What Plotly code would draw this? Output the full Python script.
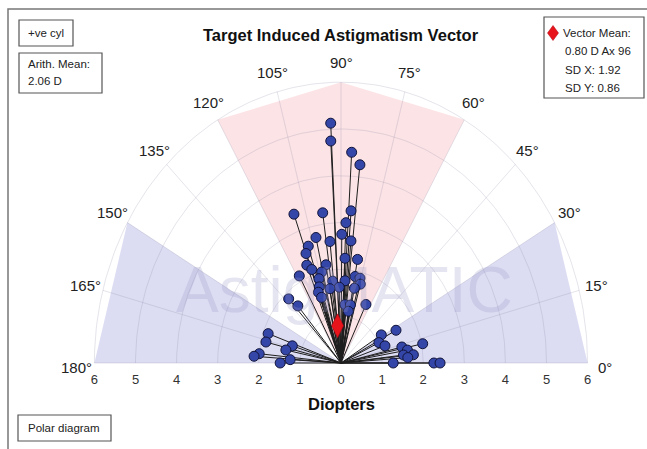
import numpy as np
import plotly.graph_objects as go

# ---------------- data ----------------
magnitude = [5.13, 4.75, 4.51, 4.26,
             3.38, 3.24, 3.26, 3.00, 2.75, 2.62, 2.75, 2.61, 2.62, 2.49,
             2.24, 2.25, 2.25, 2.12, 2.13, 2.00, 2.12, 1.88, 1.76, 1.76,
             1.88, 1.87, 1.75, 1.63, 1.62, 1.61, 1.71, 1.61, 1.48, 1.87,
             1.61, 1.25, 1.26, 1.39, 1.12,
             1.88, 1.88, 1.24, 1.37, 2.00, 2.12, 1.24, 1.48,
             1.51, 1.15, 1.02, 1.13, 2.03, 1.52, 1.64, 1.77, 1.53, 1.63,
             1.27, 2.26, 2.41]
axis_deg = [92.8, 93.0, 86.7, 83.8,
            109.8, 97.9, 85.7, 87.7, 89.6, 84.7, 102.8, 95.9, 107.7, 110.0,
            87.5, 79.7, 111.7, 109.6, 99.9, 103.6, 118.6, 106.6, 96.6, 86.8,
            79.5, 75.7, 74.4, 78.5, 91.5, 99.6, 108.0, 110.0, 108.7, 132.9,
            130.7, 85.6, 79.6, 64.1, 80.8,
            160.5, 166.2, 162.8, 168.3, 174.3, 176.1, 176.7, 180.0,
            27.6, 31.5, 25.3, 18.9, 11.7, 13.0, 9.7, 5.7, 6.4, 4.1,
            0.0, 0.0, 0.0]
mean_magnitude = 0.80
mean_axis = 96
ring_values = [1, 2, 3, 4, 5, 6]
angle_ticks = list(range(0, 181, 15))
angle_labels = [f"{a}°" for a in angle_ticks]
x_tick_vals = list(range(-6, 7))
x_tick_text = [str(abs(v)) for v in x_tick_vals]
blue_sectors = [(0, 30), (150, 180)]
red_sectors = [(60, 120)]

# ---------------- geometry helpers ----------------
W, H = 647, 449
CX, CY = 341.0, 363.0       # pixel position of the origin
SX, SY = 41.1, 46.8         # pixels per diopter (x, y)
XR = [-CX / SX, (W - CX) / SX]
YR = [-(H - CY) / SY, CY / SY]
RMAX = 6


def pol(r, a):
    t = np.deg2rad(np.asarray(a, dtype=float))
    return np.asarray(r, dtype=float) * np.cos(t), np.asarray(r, dtype=float) * np.sin(t)


def px(x):
    return x / W


def py(y):
    return 1 - y / H


FONT = "Arial, 'Liberation Sans', sans-serif"
fig = go.Figure()

# shaded sectors
for sectors, col in [(blue_sectors, "rgba(140,140,212,0.30)"), (red_sectors, "rgba(245,150,160,0.27)")]:
    for a, b in sectors:
        angs = np.arange(a, b + 1, 30)
        sx, sy = pol(np.full(len(angs), RMAX), angs)
        fig.add_trace(go.Scatter(x=[0, *sx, 0], y=[0, *sy, 0], fill="toself", fillcolor=col,
                                 mode="lines", line=dict(width=0), hoverinfo="skip", showlegend=False))

# grid: rings and spokes
gx, gy = [], []
tt = np.linspace(0, 180, 181)
for r in ring_values:
    ex, ey = pol(np.full(len(tt), r), tt)
    gx += list(ex) + [None]
    gy += list(ey) + [None]
for a in angle_ticks:
    ex, ey = pol([0, RMAX], [a, a])
    gx += list(ex) + [None]
    gy += list(ey) + [None]
fig.add_trace(go.Scatter(x=gx, y=gy, mode="lines", line=dict(color="rgba(130,130,165,0.22)", width=1),
                         hoverinfo="skip", showlegend=False))

# spokes from origin to each data point
dx, dy = pol(magnitude, axis_deg)
lx, ly = [], []
for xx, yy in zip(dx, dy):
    lx += [0, xx, None]
    ly += [0, yy, None]
fig.add_trace(go.Scatter(x=lx, y=ly, mode="lines", line=dict(color="#1e1e1e", width=1),
                         hoverinfo="skip", showlegend=False))

# data points
fig.add_trace(go.Scatter(x=dx, y=dy, mode="markers",
                         marker=dict(size=10, color="#3446a8", line=dict(color="#11143a", width=1)),
                         showlegend=False))

# vector mean
mx, my = pol([mean_magnitude], [mean_axis])
fig.add_trace(go.Scatter(x=mx, y=my, mode="markers",
                         marker=dict(symbol="diamond-tall", size=17, color="#e8141b",
                                     line=dict(color="#b00010", width=0.5)),
                         showlegend=False))

annotations = []
# angle labels
lab_r = 6.43
for a, t in zip(angle_ticks, angle_labels):
    ax_, ay_ = pol(lab_r, a)
    if a in (0, 180):
        ay_ = -0.1
    annotations.append(dict(x=float(ax_), y=float(ay_), xref="x", yref="y", text=t, showarrow=False,
                            font=dict(family=FONT, size=15, color="#222"), xanchor="center", yanchor="middle"))

# watermark
annotations.append(dict(x=px(344), y=py(290), xref="paper", yref="paper", text="AstigMATIC", showarrow=False,
                        font=dict(family=FONT, size=64, color="rgba(150,150,200,0.25)"),
                        xanchor="center", yanchor="middle"))

# title & axis title
annotations.append(dict(x=px(341), y=py(35), xref="paper", yref="paper",
                        text="<b>Target Induced Astigmatism Vector</b>", showarrow=False,
                        font=dict(family=FONT, size=16.5, color="#111"), xanchor="center", yanchor="middle"))
annotations.append(dict(x=px(341), y=py(404), xref="paper", yref="paper", text="<b>Diopters</b>",
                        showarrow=False, font=dict(family=FONT, size=16.5, color="#111"),
                        xanchor="center", yanchor="middle"))

shapes = []
box_line = dict(color="#555", width=1.2)
# outer frame
shapes.append(dict(type="rect", xref="paper", yref="paper", x0=px(8), x1=px(700), y0=py(500), y1=py(9),
                   line=dict(color="#777", width=1.5)))
# info boxes
for (x0, y0, x1, y1) in [(19, 20, 73, 46), (19, 53, 102, 93), (544, 17, 644, 98), (18, 415, 111, 441)]:
    shapes.append(dict(type="rect", xref="paper", yref="paper", x0=px(x0), x1=px(x1), y0=py(y1), y1=py(y0),
                       line=box_line, fillcolor="white"))

small = dict(family=FONT, size=11.5, color="#222")
for text, x, y in [("+ve cyl", 26, 33), ("Arith. Mean:", 26, 64), ("2.06 D", 26, 81),
                   ("Vector Mean:", 561, 33), ("0.80 D Ax 96", 563, 51), ("SD X: 1.92", 563, 70),
                   ("SD Y: 0.86", 563, 88), ("Polar diagram", 26, 428)]:
    annotations.append(dict(x=px(x), y=py(y), xref="paper", yref="paper", text=text, showarrow=False,
                            font=small, xanchor="left", yanchor="middle"))

# legend diamond
dcx, dcy, dw, dh = 553, 33, 5.5, 7.5
shapes.append(dict(type="path", xref="paper", yref="paper",
                   path=f"M {px(dcx)},{py(dcy - dh)} L {px(dcx + dw)},{py(dcy)} L {px(dcx)},{py(dcy + dh)} "
                        f"L {px(dcx - dw)},{py(dcy)} Z",
                   fillcolor="#e8141b", line=dict(color="#b00010", width=0.5)))

fig.update_layout(
    width=W, height=H, autosize=False,
    margin=dict(l=0, r=0, t=0, b=0),
    paper_bgcolor="white", plot_bgcolor="white",
    xaxis=dict(range=XR, showgrid=False, zeroline=False, showline=False, ticks="",
               tickvals=x_tick_vals, ticktext=x_tick_text, anchor="free", position=(H - CY) / H,
               ticklabelstandoff=7,
               tickfont=dict(family=FONT, size=13, color="#333"), automargin=False, fixedrange=True),
    yaxis=dict(range=YR, visible=False, fixedrange=True),
    annotations=annotations, shapes=shapes,
)

fig.write_html("out.html", config={"displayModeBar": False},
               post_script="document.body.style.margin='0';document.body.style.overflow='hidden';")
